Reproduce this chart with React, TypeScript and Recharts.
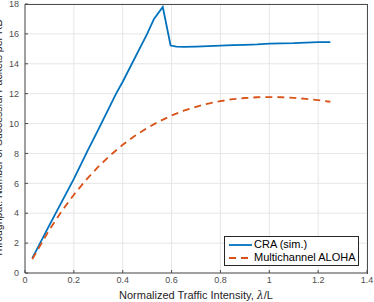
import React from 'react';
import { LineChart, Line, XAxis, YAxis, CartesianGrid } from 'recharts';

// CRA (simulated) throughput
const craX = [0.03, 0.1, 0.2, 0.257, 0.3, 0.373, 0.4, 0.5, 0.528, 0.564, 0.596, 0.62, 0.65, 0.7, 0.75, 0.8, 0.85, 0.9, 0.95, 1.0, 1.05, 1.1, 1.15, 1.2, 1.25];
const craY = [1.0, 3.2, 6.3, 8.2, 9.6, 12.0, 12.8, 16.0, 17.0, 17.8, 15.22, 15.15, 15.13, 15.15, 15.18, 15.22, 15.25, 15.27, 15.3, 15.35, 15.36, 15.38, 15.42, 15.45, 15.45];

// Multichannel ALOHA throughput
const alohaX = [0.03, 0.1, 0.15, 0.2, 0.25, 0.3, 0.35, 0.4, 0.45, 0.5, 0.55, 0.6, 0.65, 0.7, 0.75, 0.8, 0.85, 0.9, 0.95, 1.0, 1.05, 1.1, 1.15, 1.2, 1.25];
const alohaY = [0.93, 2.9, 4.13, 5.24, 6.23, 7.11, 7.89, 8.58, 9.18, 9.7, 10.15, 10.54, 10.86, 11.12, 11.34, 11.5, 11.63, 11.71, 11.76, 11.77, 11.76, 11.72, 11.65, 11.57, 11.46];

const xTicks = [0, 0.2, 0.4, 0.6, 0.8, 1, 1.2, 1.4];
const yTicks = [0, 2, 4, 6, 8, 10, 12, 14, 16, 18];

// merge both series on a shared x column
const allX = Array.from(new Set([...craX, ...alohaX])).sort((a, b) => a - b);
const data = allX.map((x) => {
  const ci = craX.indexOf(x);
  const ai = alohaX.indexOf(x);
  return { x, cra: ci >= 0 ? craY[ci] : null, aloha: ai >= 0 ? alohaY[ai] : null };
});

const FONT = 'Liberation Sans, Arial, sans-serif';
const AXIS = '#4d4d4d';

const LegendBox = () => (
  <div
    style={{
      position: 'absolute',
      left: 224,
      top: 236,
      border: '1px solid #262626',
      background: '#fff',
      width: 133,
      padding: '1px 0 0',
      fontFamily: FONT,
      fontSize: 11,
      color: '#000',
      lineHeight: '13.4px',
    }}
  >
    <div style={{ display: 'flex', alignItems: 'center' }}>
      <svg width={29} height={10}>
        <line x1={4} y1={5} x2={27} y2={5} stroke="#0072BD" strokeWidth={1.8} />
      </svg>
      <span>CRA (sim.)</span>
    </div>
    <div style={{ display: 'flex', alignItems: 'center' }}>
      <svg width={29} height={10}>
        <line x1={4} y1={5} x2={27} y2={5} stroke="#D95319" strokeWidth={1.8} strokeDasharray="7 5" />
      </svg>
      <span>Multichannel ALOHA</span>
    </div>
  </div>
);

export default function App() {
  return (
    <div style={{ position: 'absolute', left: 0, top: 0, width: 374, height: 302, background: '#fff' }}>
      <LineChart width={374} height={302} data={data} margin={{ top: 4, right: 7, bottom: 0, left: 0 }}>
        <CartesianGrid stroke="#e6e6e6" strokeWidth={1} />
        <XAxis
          type="number"
          dataKey="x"
          domain={[0, 1.4]}
          ticks={xTicks}
          interval={0}
          allowDataOverflow
          stroke={AXIS}
          tickSize={-3}
          tickMargin={7}
          tick={{ fontSize: 9, fill: AXIS, fontFamily: FONT }}
          height={29}
        />
        <YAxis
          type="number"
          domain={[0, 18]}
          ticks={yTicks}
          interval={0}
          allowDataOverflow
          stroke={AXIS}
          tickSize={-3}
          tickMargin={9}
          tick={{ fontSize: 9, fill: AXIS, fontFamily: FONT }}
          width={25}
          label={{
            value: 'Throughput: Number of Successful Packets per RB',
            angle: -90,
            position: 'insideLeft',
            offset: -2,
            style: { textAnchor: 'middle', fontSize: 10.5, fill: '#262626', fontFamily: FONT },
          }}
        />
        <Line
          dataKey="cra"
          name="CRA (sim.)"
          stroke="#0072BD"
          strokeWidth={1.8}
          dot={false}
          connectNulls
          isAnimationActive={false}
        />
        <Line
          dataKey="aloha"
          name="Multichannel ALOHA"
          stroke="#D95319"
          strokeWidth={1.8}
          strokeDasharray="7 5"
          dot={false}
          connectNulls
          isAnimationActive={false}
        />
      </LineChart>
      <div
        style={{
          position: 'absolute',
          left: 25,
          top: 4,
          width: 343,
          height: 270,
          borderTop: `1px solid ${AXIS}`,
          borderRight: `1px solid ${AXIS}`,
          boxSizing: 'border-box',
          pointerEvents: 'none',
        }}
      />
      <LegendBox />
      <div
        style={{
          position: 'absolute',
          left: 0,
          top: 289,
          width: 392,
          textAlign: 'center',
          fontFamily: FONT,
          fontSize: 11,
          color: '#262626',
        }}
      >
        Normalized Traffic Intensity, <span style={{ fontFamily: 'DejaVu Serif, serif', fontStyle: 'italic' }}>λ</span>/L
      </div>
    </div>
  );
}
